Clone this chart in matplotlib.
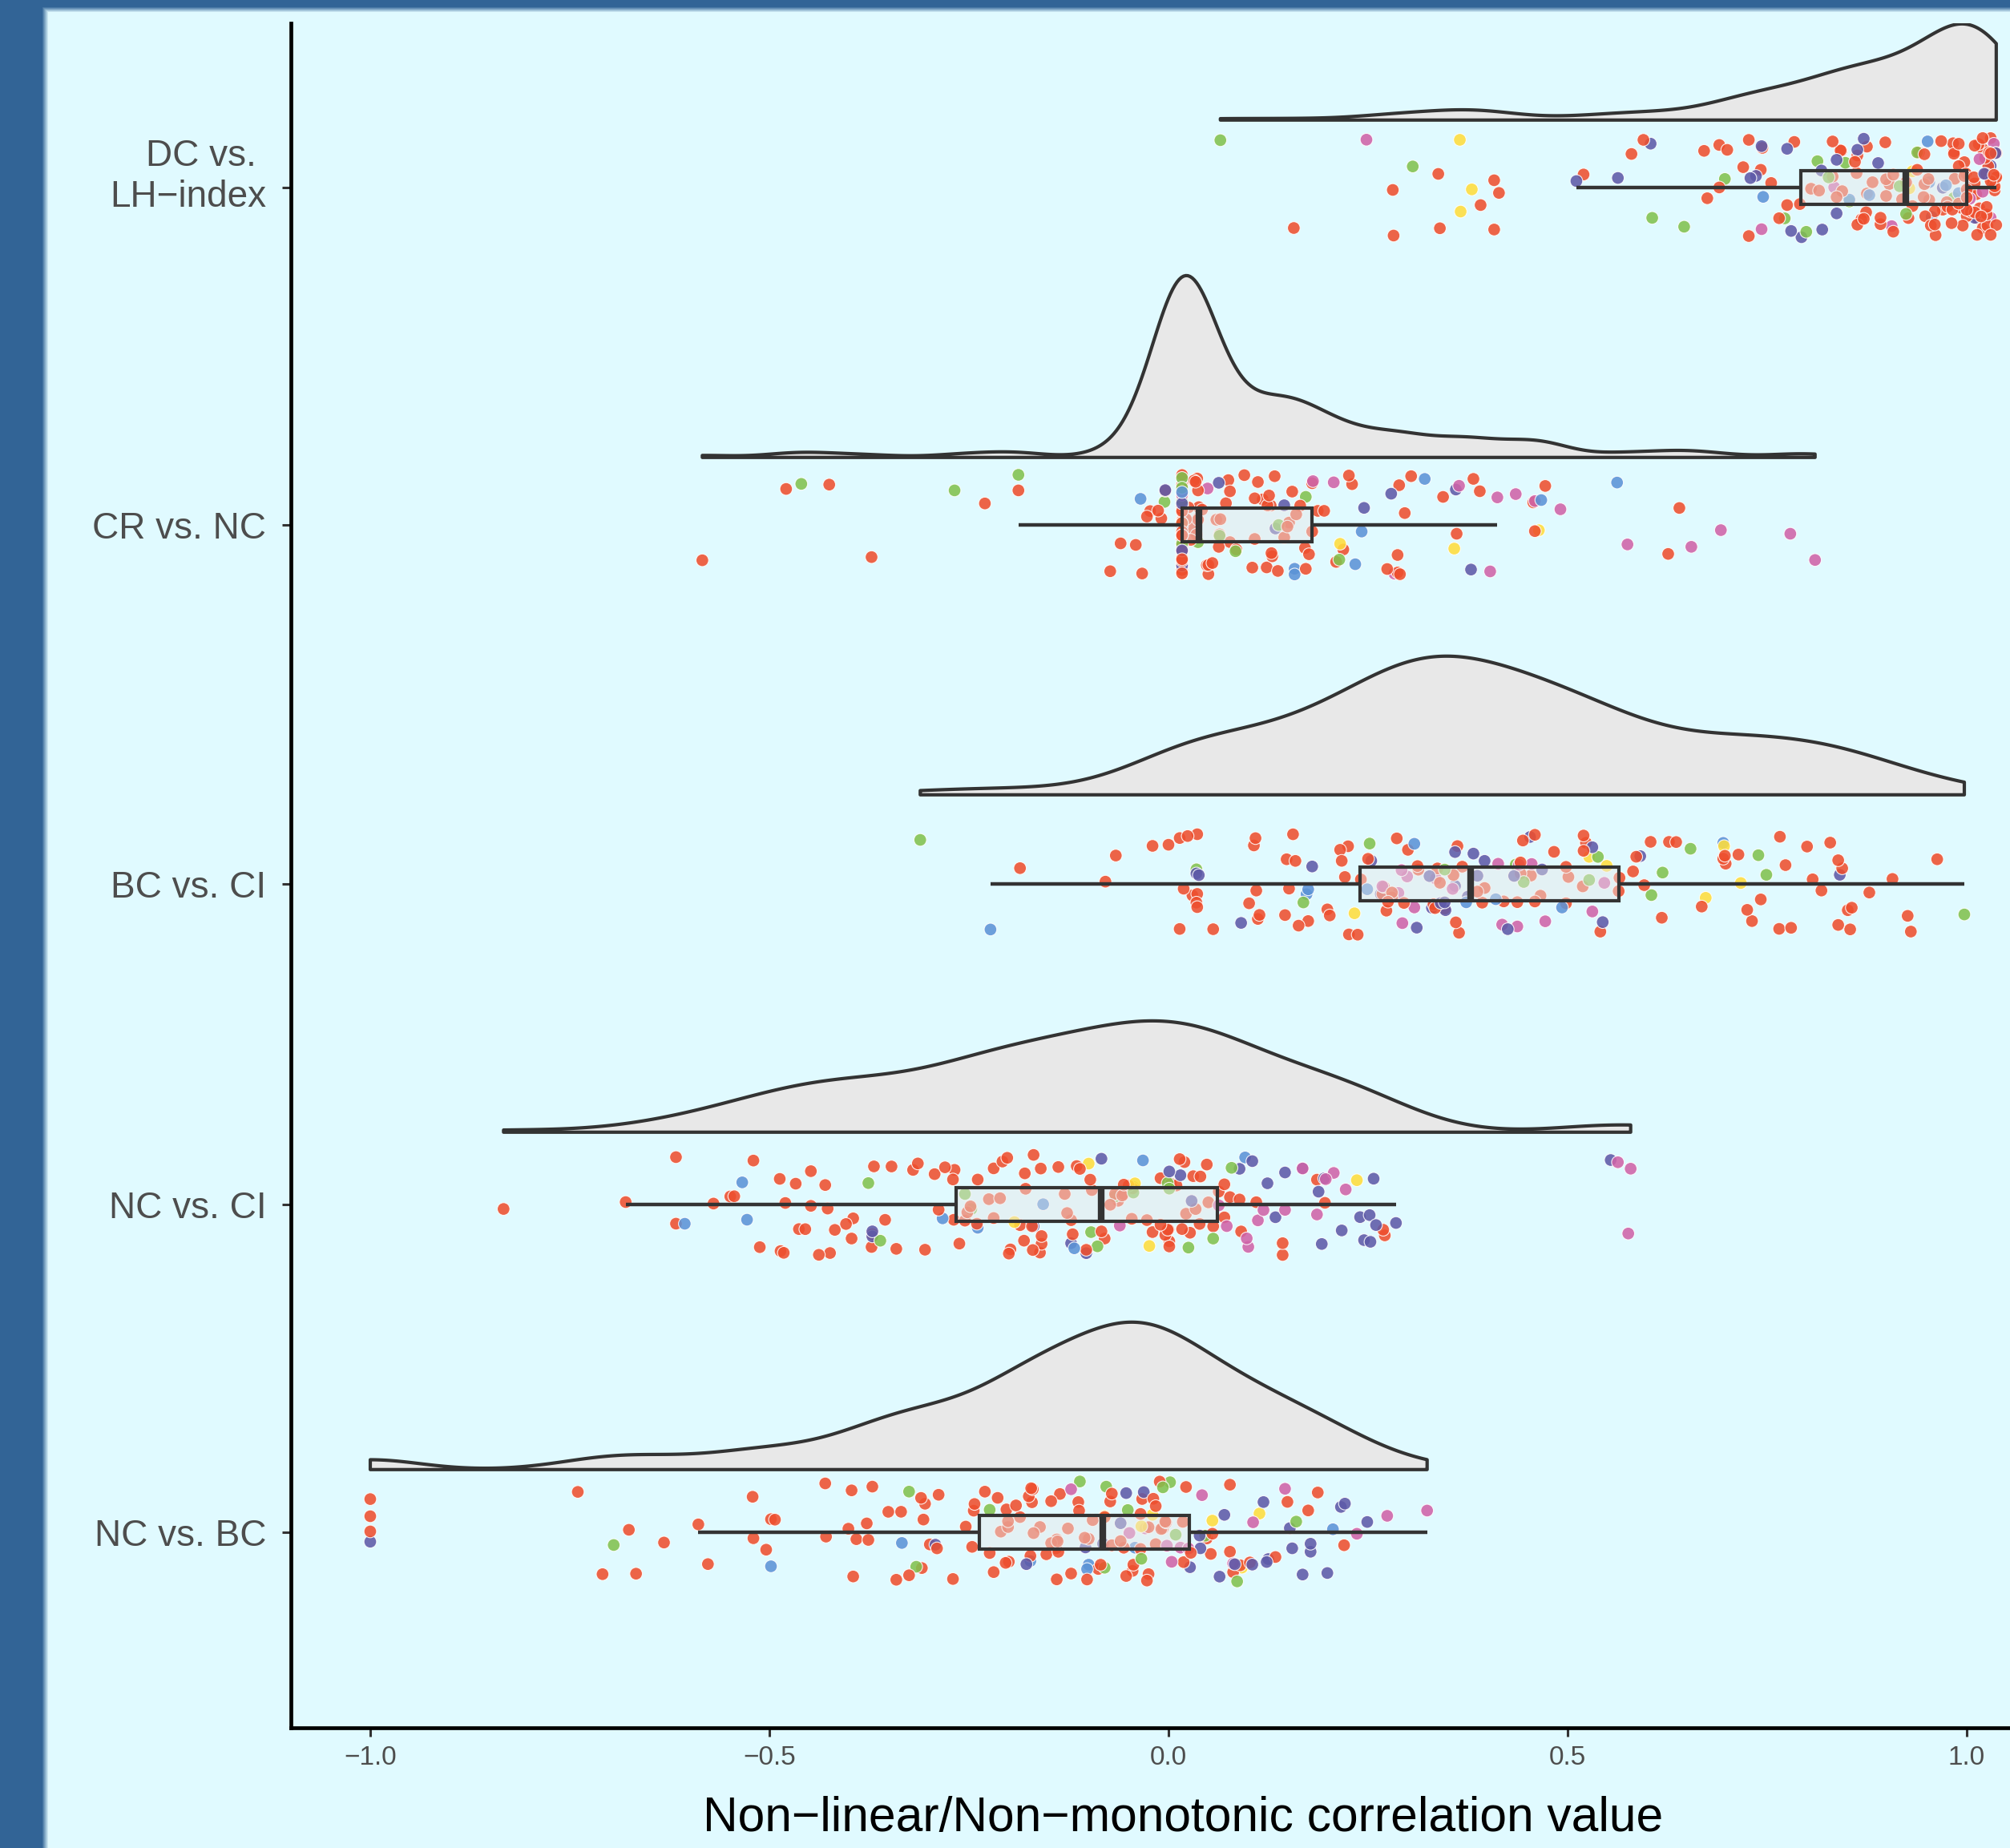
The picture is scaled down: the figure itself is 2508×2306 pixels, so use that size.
import numpy as np
import matplotlib
matplotlib.use("Agg")
import matplotlib.pyplot as plt
from matplotlib.patches import Rectangle
from matplotlib.transforms import ScaledTranslation

# comparisons, top to bottom
groups = ["DC vs. \nLH\u2212index", "CR vs. NC", "BC vs. CI", "NC vs. CI", "NC vs. BC"]

# ---- DC vs. LH-index ----
dc_red = [0.157, 0.282, 0.281, 0.338, 0.340, 0.391, 0.408, 0.408, 0.414, 0.520, 0.580, 0.595,
          0.671, 0.675, 0.690, 0.690, 0.700, 0.720, 0.727, 0.727, 0.742, 0.744, 0.755, 0.765,
          0.775, 0.784, 0.791, 0.832, 0.837, 0.842, 0.843, 0.844, 0.862, 0.863, 0.868, 0.871,
          0.875, 0.875, 0.882, 0.892, 0.892, 0.898, 0.899, 0.903, 0.908, 0.919, 0.924, 0.927,
          0.932, 0.938, 0.946, 0.947, 0.948, 0.952, 0.953, 0.960, 0.961, 0.976, 0.981, 0.982,
          0.983, 0.984, 0.993, 0.997, 0.999, 1.000, 1.009, 1.013, 1.014, 1.016, 1.020, 1.020,
          1.023, 1.025, 1.027, 1.028, 1.030, 1.033, 1.034, 1.035, 1.036, 1.037, 1.005, 1.012,
          1.018, 1.024, 1.030, 1.035, 1.010, 1.020, 1.026, 1.032, 0.990, 0.995, 0.832, 0.863,
          0.874, 0.899, 0.908, 0.947, 0.984, 0.997, 0.985, 0.990, 1.000, 1.005, 1.010, 1.015,
          1.020, 1.025, 1.030, 1.000, 1.010, 1.030, 1.037, 1.037, 0.970, 0.805, 0.815, 0.860,
          0.940, 0.960, 0.975, 0.990, 1.000, 0.955, 0.968]
dc_purple = [0.511, 0.563, 0.604, 0.729, 0.736, 0.743, 0.775, 0.780, 0.793, 0.818, 0.819,
             0.837, 0.837, 0.863, 0.871, 0.889, 0.970, 1.022, 1.036, 1.010, 1.030]
dc_blue = [0.745, 0.853, 0.878, 0.953, 0.956, 0.974, 0.951, 0.990]
dc_green = [0.065, 0.306, 0.606, 0.646, 0.697, 0.772, 0.799, 0.813, 0.827, 0.848, 0.853,
            0.916, 0.924, 0.938, 0.984]
dc_yellow = [0.365, 0.380, 0.366, 0.928, 0.932]
dc_pink = [0.248, 0.743, 0.834, 0.906, 1.004, 1.016, 1.020, 1.027, 1.034, 1.000, 1.030]

# ---- CR vs. NC ----
cr_red = [-0.584, -0.479, -0.425, -0.372, -0.230, -0.188, -0.073, -0.060, -0.041, -0.033,
          -0.027, -0.023, -0.013, -0.009, -0.004, 0.036, 0.037, 0.038, 0.050, 0.050, 0.060,
          0.063, 0.064, 0.072, 0.077, 0.077, 0.108, 0.108, 0.112, 0.123, 0.124, 0.126, 0.128,
          0.129, 0.133, 0.137, 0.149, 0.151, 0.155, 0.160, 0.171, 0.172, 0.176, 0.180, 0.180,
          0.187, 0.195, 0.210, 0.219, 0.226, 0.230, 0.274, 0.287, 0.287, 0.289, 0.290, 0.296,
          0.304, 0.344, 0.361, 0.382, 0.390, 0.457, 0.459, 0.472, 0.626, 0.640,
          0.022, 0.025, 0.028, 0.030, 0.032, 0.034, 0.035, 0.037, 0.037,
          0.042, 0.048, 0.055, 0.065, 0.075, 0.085, 0.095, 0.105, 0.118, 0.130, 0.145,
          0.165] + [0.017] * 42
cr_purple = [-0.004, 0.063, 0.134, 0.145, 0.245, 0.279, 0.360, 0.379] + [0.017] * 10
cr_blue = [-0.035, 0.158, 0.158, 0.234, 0.242, 0.321, 0.467, 0.562] + [0.017]
cr_green = [-0.460, -0.268, -0.188, -0.005, 0.037, 0.064, 0.084, 0.138, 0.172, 0.214] + [0.017] * 7
cr_yellow = [0.215, 0.358, 0.464]
cr_pink = [0.049, 0.181, 0.207, 0.283, 0.364, 0.403, 0.412, 0.435, 0.459, 0.491, 0.575,
           0.655, 0.692, 0.779, 0.810] + [0.017] * 5

# ---- BC vs. CI ----
bc_red = [-0.186, -0.079, -0.066, -0.020, 0.000, 0.014, 0.019, 0.014, 0.024, 0.030, 0.035,
          0.036, 0.036, 0.036, 0.056, 0.101, 0.107, 0.109, 0.110, 0.112, 0.114, 0.146, 0.151,
          0.148, 0.156, 0.159, 0.163, 0.175, 0.199, 0.202, 0.215, 0.217, 0.221, 0.225, 0.226,
          0.237, 0.241, 0.250, 0.268, 0.270, 0.273, 0.275, 0.280, 0.286, 0.295, 0.312, 0.313,
          0.332, 0.334, 0.337, 0.340, 0.346, 0.357, 0.362, 0.364, 0.368, 0.387, 0.393, 0.396,
          0.420, 0.437, 0.441, 0.441, 0.444, 0.454, 0.459, 0.459, 0.466, 0.483, 0.498, 0.498,
          0.501, 0.519, 0.520, 0.520, 0.523, 0.541, 0.564, 0.565, 0.582, 0.586, 0.596, 0.604,
          0.618, 0.627, 0.636, 0.668, 0.695, 0.697, 0.698, 0.714, 0.725, 0.731, 0.742, 0.765,
          0.766, 0.773, 0.780, 0.800, 0.807, 0.818, 0.829, 0.839, 0.839, 0.844, 0.851, 0.854,
          0.856, 0.878, 0.907, 0.926, 0.930, 0.963, 0.300, 0.360, 0.280]
bc_purple = [0.035, 0.038, 0.091, 0.180, 0.254, 0.266, 0.311, 0.327, 0.330, 0.341, 0.346,
             0.347, 0.359, 0.359, 0.375, 0.382, 0.387, 0.396, 0.425, 0.433, 0.453, 0.468,
             0.531, 0.544, 0.591, 0.841]
bc_blue = [-0.223, 0.173, 0.175, 0.249, 0.308, 0.373, 0.410, 0.493, 0.695]
bc_green = [-0.311, 0.035, 0.169, 0.252, 0.346, 0.435, 0.445, 0.527, 0.538, 0.605, 0.619,
            0.654, 0.739, 0.749, 0.997]
bc_yellow = [0.233, 0.527, 0.549, 0.673, 0.696, 0.717]
bc_pink = [0.268, 0.288, 0.292, 0.293, 0.299, 0.308, 0.335, 0.356, 0.413, 0.418, 0.437,
           0.439, 0.455, 0.472, 0.531, 0.546]

# ---- NC vs. CI ----
nci_red = [-0.833, -0.680, -0.617, -0.617, -0.570, -0.549, -0.544, -0.520, -0.512, -0.487,
           -0.486, -0.482, -0.480, -0.467, -0.463, -0.455, -0.448, -0.448, -0.438, -0.430,
           -0.427, -0.424, -0.418, -0.404, -0.397, -0.395, -0.372, -0.371, -0.369, -0.355,
           -0.347, -0.341, -0.320, -0.314, -0.305, -0.293, -0.288, -0.280, -0.270, -0.269,
           -0.268, -0.262, -0.255, -0.252, -0.248, -0.239, -0.225, -0.219, -0.219, -0.211,
           -0.208, -0.202, -0.198, -0.186, -0.181, -0.179, -0.171, -0.170, -0.169, -0.161,
           -0.159, -0.159, -0.138, -0.130, -0.127, -0.122, -0.115, -0.111, -0.103, -0.098,
           -0.096, -0.084, -0.073, -0.067, -0.063, -0.058, -0.056, -0.056, -0.046, -0.045,
           -0.027, -0.010, -0.010, -0.004, -0.001, 0.000, 0.001, 0.001, 0.003, 0.010, 0.014,
           0.017, 0.022, 0.027, 0.031, 0.034, 0.039, 0.048, 0.050, 0.056, 0.063, 0.070, 0.070,
           0.077, 0.089, 0.091, 0.110, 0.143, 0.143, 0.186, 0.196, 0.269, 0.271,
           -0.240, -0.200, -0.180, -0.160, -0.120, -0.080, -0.050, -0.020, 0.020, 0.040]
nci_purple = [-0.371, -0.371, -0.169, -0.122, -0.103, -0.084, 0.001, 0.015, 0.029, 0.089,
              0.105, 0.124, 0.134, 0.146, 0.168, 0.188, 0.192, 0.195, 0.217, 0.240, 0.245,
              0.252, 0.253, 0.257, 0.260, 0.285, 0.554]
nci_blue = [-0.606, -0.534, -0.528, -0.283, -0.239, -0.157, -0.118, -0.032, 0.096]
nci_green = [-0.376, -0.361, -0.255, -0.247, -0.097, -0.089, -0.067, -0.044, -0.044, -0.001,
             0.001, 0.025, 0.056, 0.079]
nci_yellow = [-0.193, -0.100, -0.042, -0.024, 0.236]
nci_pink = [-0.061, 0.063, 0.073, 0.100, 0.098, 0.112, 0.119, 0.146, 0.168, 0.186, 0.197,
            0.207, 0.222, 0.563, 0.576, 0.579]

# ---- NC vs. BC ----
nbc_red = [-1.0, -1.0, -1.0, -0.740, -0.709, -0.676, -0.667, -0.632, -0.589, -0.577, -0.521,
           -0.520, -0.504, -0.498, -0.493, -0.430, -0.429, -0.401, -0.397, -0.395, -0.391,
           -0.376, -0.378, -0.371, -0.351, -0.341, -0.335, -0.325, -0.310, -0.309, -0.307,
           -0.305, -0.299, -0.290, -0.288, -0.270, -0.254, -0.246, -0.244, -0.243, -0.230,
           -0.224, -0.219, -0.214, -0.210, -0.204, -0.201, -0.201, -0.203, -0.191, -0.186,
           -0.173, -0.171, -0.172, -0.169, -0.161, -0.141, -0.139, -0.136, -0.140, -0.138,
           -0.147, -0.113, -0.102, -0.105, -0.095, -0.088, -0.085, -0.073, -0.071, -0.071,
           -0.056, -0.053, -0.044, -0.035, -0.035, -0.027, -0.025, -0.019, -0.016, -0.011,
           -0.009, -0.004, -0.003, 0.019, 0.022, 0.028, 0.048, 0.053, 0.055, 0.077, 0.077,
           0.081, 0.090, 0.102, 0.134, 0.149, 0.175, 0.187, 0.220, -0.200, -0.175, -0.170,
           -0.153, -0.147, -0.140, -0.126, -0.122, -0.112, -0.100, -0.080, -0.060, -0.045,
           -0.033, -0.025, -0.016, -0.007, 0.018]
nbc_purple = [-1.0, -0.292, -0.178, -0.104, -0.082, -0.060, -0.053, -0.031, 0.027, 0.039,
              0.040, 0.064, 0.070, 0.083, 0.105, 0.119, 0.123, 0.125, 0.152, 0.155, 0.168,
              0.178, 0.178, 0.199, 0.216, 0.221, 0.249]
nbc_blue = [-0.498, -0.334, -0.173, -0.100, -0.102, -0.042, 0.206]
nbc_green = [-0.695, -0.325, -0.316, -0.224, -0.111, -0.080, -0.078, -0.051, -0.034, -0.007,
             0.002, 0.009, 0.046, 0.086, 0.160]
nbc_yellow = [-0.080, -0.034, -0.020, 0.055, 0.092, 0.114]
nbc_pink = [-0.122, -0.049, -0.029, -0.002, 0.004, 0.015, 0.025, 0.042, 0.081, 0.106, 0.146,
            0.236, 0.274, 0.324]

data = [
    [dc_red, dc_purple, dc_blue, dc_green, dc_yellow, dc_pink],
    [cr_red, cr_purple, cr_blue, cr_green, cr_yellow, cr_pink],
    [bc_red, bc_purple, bc_blue, bc_green, bc_yellow, bc_pink],
    [nci_red, nci_purple, nci_blue, nci_green, nci_yellow, nci_pink],
    [nbc_red, nbc_purple, nbc_blue, nbc_green, nbc_yellow, nbc_pink],
]
point_colors = ["#EE4F2E", "#5E5AA8", "#5C93D6", "#82C14E", "#FFDD3C", "#CF63A8"]

# layout
W, H, DPI = 2508, 2306, 200
bg = np.array([224, 250, 255], dtype=np.float32)
frame = np.array([50, 100, 150], dtype=np.float32)
row_nudge = [0.0, 0.0, 0.065, 0.015, -0.015]
cloud_height = [0.285, 0.539, 0.411, 0.330, 0.437]
cloud_gap = 0.2
jitter_h = 0.15
box_h = 0.05


def nrd0(x):
    sd = np.std(x, ddof=1)
    q75, q25 = np.percentile(x, [75, 25])
    lo = min(sd, (q75 - q25) / 1.34)
    return 0.9 * lo * len(x) ** -0.2


def kde(x):
    bw = nrd0(x)
    grid = np.linspace(x.min(), x.max(), 512)
    z = (grid[:, None] - x[None, :]) / bw
    d = np.exp(-0.5 * z ** 2).sum(axis=1) / (len(x) * bw * np.sqrt(2 * np.pi))
    return grid, d


fig = plt.figure(figsize=(W / DPI, H / DPI), dpi=DPI, facecolor="#E0FAFF")
plt.rcParams['font.family'] = ['Liberation Sans', 'DejaVu Sans']

# blue frame on the left and top with a soft edge
fx = np.clip((60 - np.arange(W)) / 8.0, 0, 1).astype(np.float32)
fy = np.clip((15 - np.arange(H)) / 7.0, 0, 1).astype(np.float32)
f = np.maximum(fx[None, :], fy[:, None])[..., None]
img = (bg * (1 - f) + frame * f).astype(np.uint8)
fig.figimage(img, 0, 0, origin="upper", zorder=-5)

ax = fig.add_axes([363 / W, (H - 2156) / H, (W - 363) / W, (2156 - 29) / H])
ax.set_facecolor("none")

rng = np.random.default_rng(11)

for i, parts in enumerate(data):
    yc = i + row_nudge[i]
    vals = np.concatenate([np.asarray(p, float) for p in parts])
    cols = np.concatenate([[point_colors[k]] * len(p) for k, p in enumerate(parts)])
    order = rng.permutation(len(vals))
    jit = rng.uniform(-jitter_h, jitter_h, len(vals))
    ax.scatter(vals[order], yc + jit, s=32, c=cols[order], alpha=0.88,
               edgecolors=(1, 1, 1, 0.35), linewidths=0.4, zorder=2)

    # half violin (cloud)
    gx, gd = kde(vals)
    base = i - cloud_gap
    top = base - gd / gd.max() * cloud_height[i]
    px = np.concatenate([gx, gx[::-1]])
    py = np.concatenate([top, np.full_like(gx, base)])
    ax.fill(px, py, facecolor="#E8E8E8", edgecolor="#333333", linewidth=1.5,
            joinstyle="round", zorder=3)

    # boxplot without outliers
    q1, med, q3 = np.percentile(vals, [25, 50, 75])
    iqr = q3 - q1
    lo = vals[vals >= q1 - 1.5 * iqr].min()
    hi = vals[vals <= q3 + 1.5 * iqr].max()
    ax.plot([lo, q1], [yc, yc], color="#333333", lw=1.6, zorder=4, solid_capstyle="butt")
    ax.plot([q3, hi], [yc, yc], color="#333333", lw=1.6, zorder=4, solid_capstyle="butt")
    ax.add_patch(Rectangle((q1, yc - box_h), q3 - q1, 2 * box_h,
                           facecolor=(0.91, 0.91, 0.91, 0.45), edgecolor="#333333",
                           linewidth=1.5, zorder=4))
    ax.plot([med, med], [yc - box_h, yc + box_h], color="#333333", lw=3.0, zorder=5,
            solid_capstyle="butt")

ax.set_xlim((363 - 1458) / 996, (W - 1458) / 996)
ax.set_ylim((2156 - 234) / 421, (29 - 234) / 421)

ax.set_yticks([i + row_nudge[i] for i in range(len(groups))])
ax.set_yticklabels(groups, fontsize=16.5, color="#4D4D4D", linespacing=1.2)
xt = [-1.0, -0.5, 0.0, 0.5, 1.0]
ax.set_xticks(xt)
ax.set_xticklabels([f"{v:.1f}".replace("-", "\u2212") for v in xt], fontsize=12, color="#4D4D4D")
ax.tick_params(axis="both", length=4, width=1.1, color="#333333")
ax.tick_params(axis="y", pad=7)
ax.tick_params(axis="x", pad=4)

# two-line label sits a little above its tick
lab0 = ax.get_yticklabels()[0]
lab0.set_transform(lab0.get_transform() + ScaledTranslation(0, 0.11, fig.dpi_scale_trans))

for s in ["top", "right"]:
    ax.spines[s].set_visible(False)
for s in ["left", "bottom"]:
    ax.spines[s].set_linewidth(1.7)
    ax.spines[s].set_color("black")

fig.text(1476 / W, 1 - 2269 / H, "Non\u2212linear/Non\u2212monotonic correlation value",
         ha="center", va="center", fontsize=21.8, color="black")

fig.savefig("out.png", dpi=DPI, facecolor=fig.get_facecolor())
